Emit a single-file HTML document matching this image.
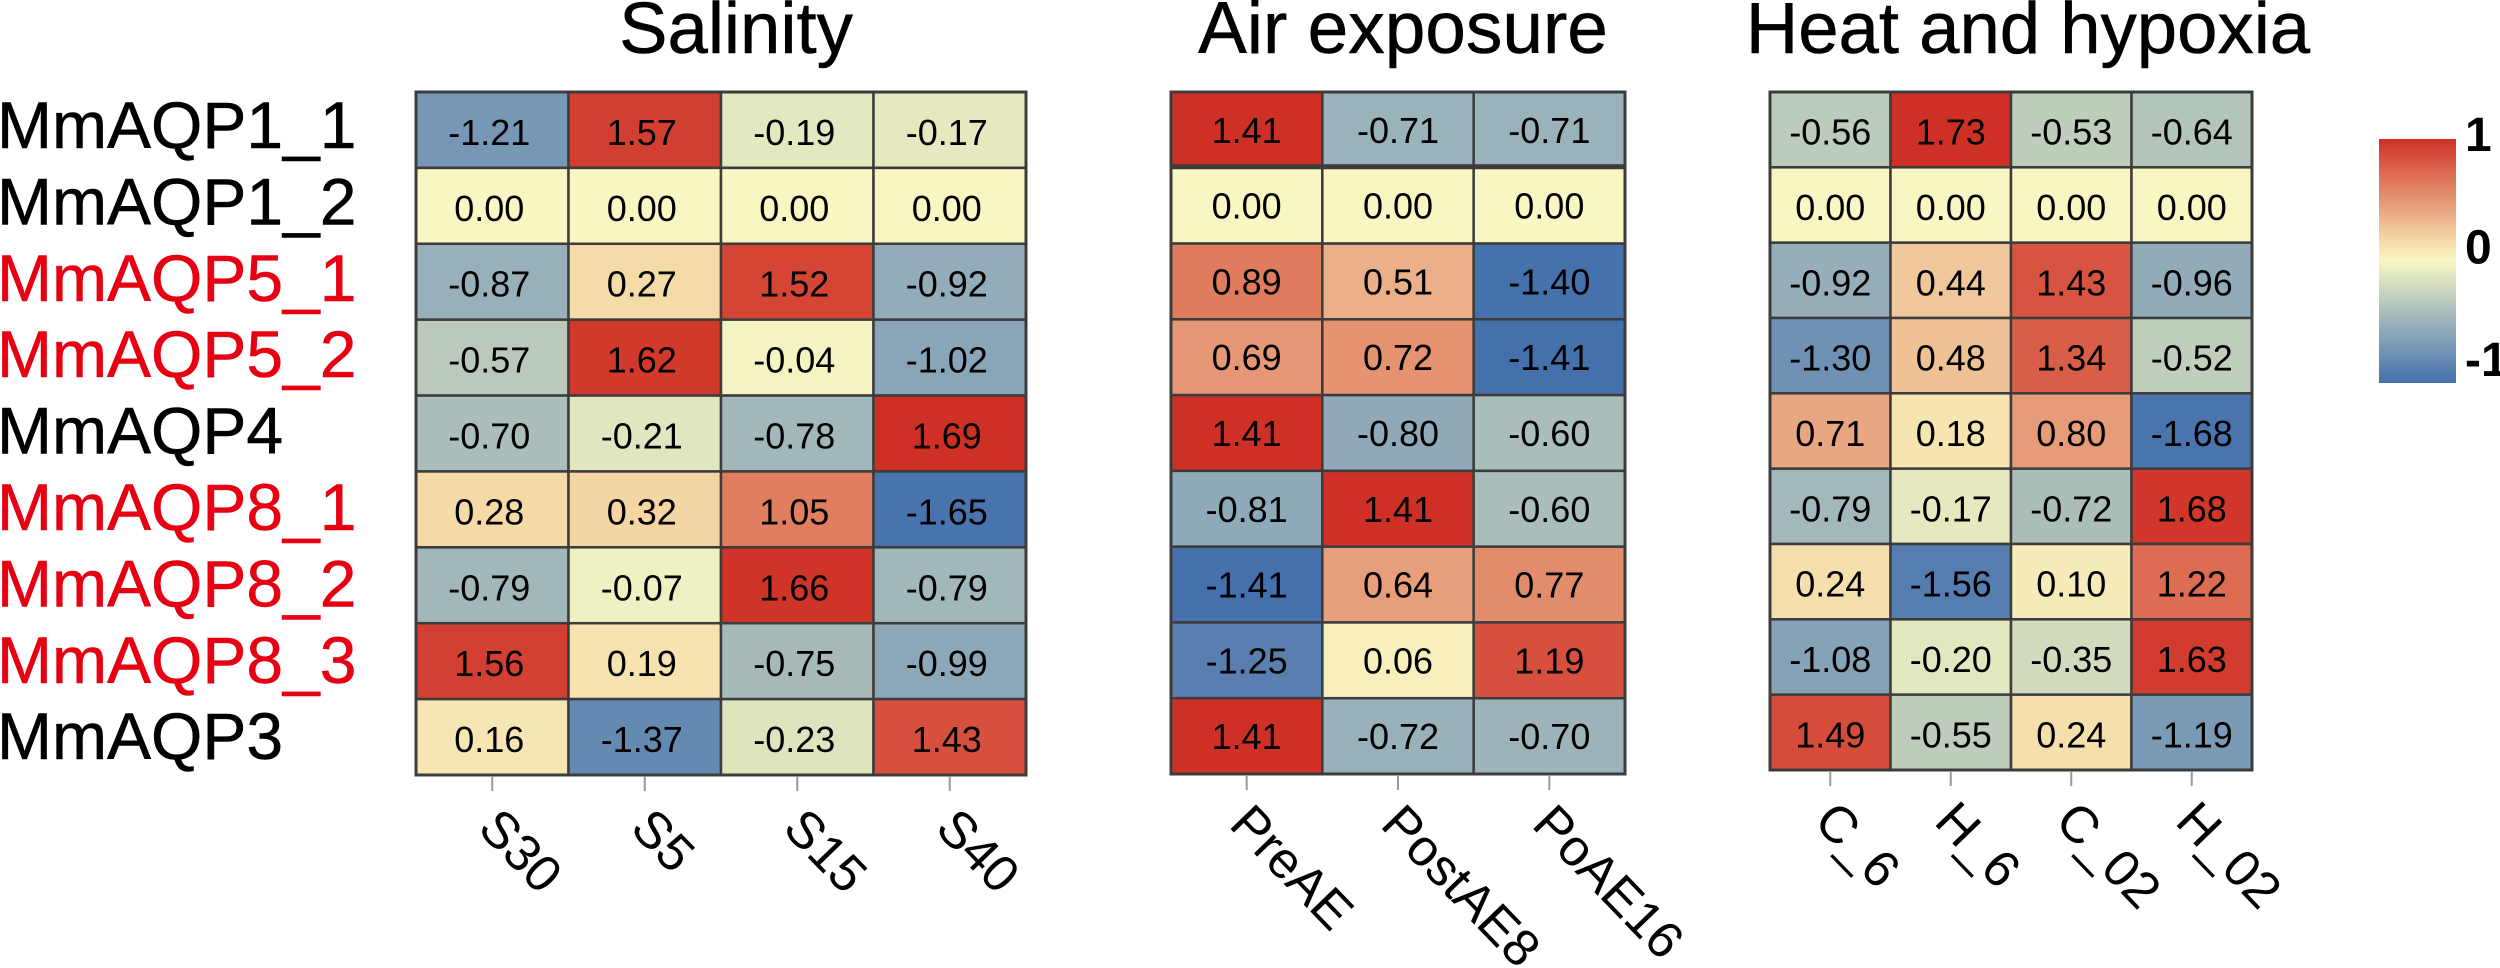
<!DOCTYPE html>
<html lang="en">
<head>
<meta charset="utf-8">
<title>MmAQP expression heatmaps</title>
<style>
html,body{margin:0;padding:0;background:#fff;width:2500px;height:968px;overflow:hidden}
svg{display:block;font-family:"Liberation Sans",Arial,sans-serif}
</style>
</head>
<body>
<svg id="chart" xmlns="http://www.w3.org/2000/svg" width="2500" height="968" viewBox="0 0 2500 968">
<rect width="2500" height="968" fill="#ffffff"/>
</svg>
<script>
const rowLabels = ["MmAQP1_1","MmAQP1_2","MmAQP5_1","MmAQP5_2","MmAQP4","MmAQP8_1","MmAQP8_2","MmAQP8_3","MmAQP3"];
const highlightedRows = ["MmAQP5_1","MmAQP5_2","MmAQP8_1","MmAQP8_2","MmAQP8_3"];

const salinityTitle = "Salinity";
const salinityColumns = ["S30","S5","S15","S40"];
const salinityValues = [
  [-1.21,1.57,-0.19,-0.17],
  [0,0,0,0],
  [-0.87,0.27,1.52,-0.92],
  [-0.57,1.62,-0.04,-1.02],
  [-0.70,-0.21,-0.78,1.69],
  [0.28,0.32,1.05,-1.65],
  [-0.79,-0.07,1.66,-0.79],
  [1.56,0.19,-0.75,-0.99],
  [0.16,-1.37,-0.23,1.43]
];

const airTitle = "Air exposure";
const airColumns = ["PreAE","PostAE8","PoAE16"];
const airValues = [
  [1.41,-0.71,-0.71],
  [0,0,0],
  [0.89,0.51,-1.40],
  [0.69,0.72,-1.41],
  [1.41,-0.80,-0.60],
  [-0.81,1.41,-0.60],
  [-1.41,0.64,0.77],
  [-1.25,0.06,1.19],
  [1.41,-0.72,-0.70]
];

const heatTitle = "Heat and hypoxia";
const heatColumns = ["C_6","H_6","C_02","H_02"];
const heatValues = [
  [-0.56,1.73,-0.53,-0.64],
  [0,0,0,0],
  [-0.92,0.44,1.43,-0.96],
  [-1.30,0.48,1.34,-0.52],
  [0.71,0.18,0.80,-1.68],
  [-0.79,-0.17,-0.72,1.68],
  [0.24,-1.56,0.10,1.22],
  [-1.08,-0.20,-0.35,1.63],
  [1.49,-0.55,0.24,-1.19]
];

const legendTicks = [1,0,-1];

const NS = "http://www.w3.org/2000/svg";
const svg = document.getElementById("chart");
const ramp = [
  [-1,"#4470ac"],[-0.72,"#7596b5"],[-0.5,"#9bb2ba"],[-0.33,"#bbcabb"],[-0.11,"#e4e8c0"],
  [0,"#f8f6c3"],[0.16,"#f5dba8"],[0.36,"#ebb08a"],[0.63,"#e07c5e"],[1,"#cf3025"]
];

function hexToRgb(h){
  return [parseInt(h.slice(1,3),16),parseInt(h.slice(3,5),16),parseInt(h.slice(5,7),16)];
}
function colorFor(t){
  t = Math.max(-1,Math.min(1,t));
  for(let i=0;i<ramp.length-1;i++){
    if(t<=ramp[i+1][0]){
      const f=(t-ramp[i][0])/(ramp[i+1][0]-ramp[i][0]);
      const a=hexToRgb(ramp[i][1]), b=hexToRgb(ramp[i+1][1]);
      return "rgb("+a.map((v,k)=>Math.round(v+(b[k]-v)*f)).join(",")+")";
    }
  }
  return ramp[ramp.length-1][1];
}
function make(tag,attrs,parent){
  const el=document.createElementNS(NS,tag);
  for(const k in attrs){el.setAttribute(k,attrs[k]);}
  (parent||svg).appendChild(el);
  return el;
}

function drawPanel(key,title,columns,values,box){
  const group=make("g",{});
  
  
  const xScale=i=>box.left+(box.right-box.left)*i/columns.length;
  const yScale=i=>box.top+(box.bottom-box.top)*i/values.length;
  const maxAbs=Math.max(...values.flat().map(Math.abs));

  const titleEl=make("text",{x:box.titleX,y:53,"text-anchor":"middle","font-size":box.titleSize,fill:"#000",stroke:"#000","stroke-width":0.5},group);
  titleEl.textContent=title;
  
  

  values.forEach((row,r)=>{
    row.forEach((v,c)=>{
      const rect=make("rect",{x:xScale(c),y:yScale(r),width:xScale(c+1)-xScale(c),height:yScale(r+1)-yScale(r),
        fill:colorFor(v/maxAbs),stroke:"#3c3c3c","stroke-width":2.5},group);
      
      
      const label=make("text",{x:(xScale(c)+xScale(c+1))/2+box.textDx,y:(yScale(r)+yScale(r+1))/2+box.textDy,
        "text-anchor":"middle","font-size":36,fill:"#000"},group);
      label.textContent=v.toFixed(2);
      
      
    });
  });

  if(box.thickRow){
    const thick=make("line",{x1:box.left,x2:box.right,y1:yScale(box.thickRow)-1,y2:yScale(box.thickRow)-1,stroke:"#3c3c3c","stroke-width":5},group);
    
    
  }

  const frame=make("rect",{x:box.left,y:box.top,width:box.right-box.left,height:box.bottom-box.top,fill:"none",stroke:"#3c3c3c","stroke-width":3},group);
  
  

  columns.forEach((name,c)=>{
    const cx=(xScale(c)+xScale(c+1))/2;
    const tick=make("line",{x1:cx,x2:cx,y1:box.bottom+1,y2:box.bottom+16,stroke:"#999999","stroke-width":2},group);
    
    
    const lx=cx+box.labelDx, ly=box.labelY;
    const lab=make("text",{x:lx,y:ly,"font-size":51.5,fill:"#000",transform:"rotate(46 "+lx+" "+ly+")"},group);
    lab.textContent=name;
    
    
  });
}

rowLabels.forEach((name,i)=>{
  const fillColor=highlightedRows.includes(name)?"#e60012":"#000000";
  const t=make("text",{x:-3,y:148+76.4*i,"font-size":66,fill:fillColor,stroke:fillColor,"stroke-width":0.5});
  t.textContent=name;
  
  
});

drawPanel("salinity",salinityTitle,salinityColumns,salinityValues,
  {left:416,right:1026,top:92,bottom:775,textDx:-3,textDy:15,labelY:830,labelDx:-16,titleX:736,titleSize:72.5});
drawPanel("air",airTitle,airColumns,airValues,
  {left:1171,right:1625,top:92,bottom:774,textDx:0,textDy:13,labelY:826,labelDx:-19,titleX:1403,titleSize:73,thickRow:1});
drawPanel("heat",heatTitle,heatColumns,heatValues,
  {left:1770,right:2252,top:92,bottom:770,textDx:0,textDy:15,labelY:823,labelDx:-18,titleX:2028,titleSize:72.5});

const defs=make("defs",{});
const grad=make("linearGradient",{id:"legend-gradient",x1:0,y1:1,x2:0,y2:0},defs);
ramp.forEach(s=>{
  make("stop",{offset:(s[0]+1)/2,"stop-color":s[1]},grad);
});
const legendTop=139, legendBottom=383;
const legendBaseline=v=>263.5-112.5*v;
const legendBar=make("rect",{x:2379,y:legendTop,width:77,height:legendBottom-legendTop,fill:"url(#legend-gradient)"});


legendTicks.forEach(v=>{
  const t=make("text",{x:2465,y:legendBaseline(v),"font-size":48,"font-weight":"bold",fill:"#000"});
  t.textContent=String(v);
  
  
});
</script>
</body>
</html>
